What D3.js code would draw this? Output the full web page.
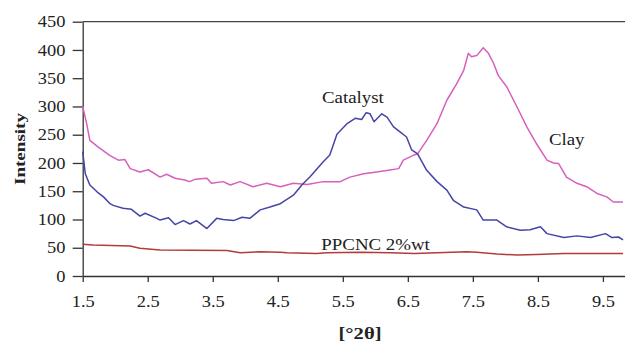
<!DOCTYPE html>
<html>
<head>
<meta charset="utf-8">
<script src="https://cdn.jsdelivr.net/npm/d3@7"></script>
<style>
  html, body { margin: 0; padding: 0; background: #fff; }
  svg { display: block; }
  .axis path, .axis line { stroke: #333; stroke-width: 1.3; }
</style>
</head>
<body>
<div id="chart"></div>
<script>
// values: [2theta, intensity]
var clay = [[1.5,300],[1.56,270],[1.61,240],[1.74,228],[1.92,213],[2.05,205],[2.15,206],[2.23,190],[2.38,184],[2.51,188],
  [2.69,175],[2.79,180],[2.92,173],[3.07,170],[3.14,167],[3.23,171],[3.41,173],[3.48,164],[3.66,167],[3.77,161],[3.92,167],
  [4.12,158],[4.33,164],[4.54,158],[4.74,164],[4.95,162],[5.2,167],[5.46,167],[5.61,175],[5.82,181],[6.02,184],[6.2,187],
  [6.36,190],[6.43,205],[6.59,214],[6.65,216],[6.79,240],[6.95,270],[7.1,311],[7.25,340],[7.36,364],[7.43,394],[7.48,388],
  [7.56,390],[7.66,404],[7.74,394],[7.82,376],[7.89,355],[8.02,335],[8.18,299],[8.33,264],[8.48,234],[8.64,205],[8.74,200],
  [8.82,199],[8.94,175],[9.1,164],[9.25,158],[9.41,146],[9.56,140],[9.66,131],[9.81,131]];

var catalyst = [[1.5,220],[1.54,181],[1.61,161],[1.72,149],[1.82,140],[1.92,128],[1.97,125],[2.12,120],[2.25,118],[2.38,106],
  [2.46,111],[2.64,102],[2.69,99],[2.82,103],[2.92,91],[3.05,98],[3.15,92],[3.25,98],[3.41,84],[3.56,102],[3.66,100],
  [3.82,98],[3.95,104],[4.07,102],[4.23,117],[4.38,122],[4.54,128],[4.74,143],[4.87,161],[5.0,176],[5.2,202],[5.3,214],
  [5.41,251],[5.56,269],[5.69,279],[5.79,277],[5.86,289],[5.92,287],[5.98,273],[6.1,287],[6.18,281],[6.28,264],[6.38,255],
  [6.48,246],[6.56,223],[6.65,216],[6.79,187],[6.95,167],[7.1,152],[7.2,134],[7.36,122],[7.56,117],[7.66,99],[7.87,99],
  [8.02,87],[8.23,81],[8.38,82],[8.54,87],[8.64,75],[8.9,68],[9.1,71],[9.31,68],[9.54,75],[9.64,68],[9.74,69],[9.81,64]];

var ppcnc = [[1.5,56],[1.66,55],[2.23,53],[2.38,49],[2.69,46],[3.72,45],[3.92,41],[4.23,43],[4.54,42],[4.64,41],[5.1,40],
  [5.25,41],[5.77,42],[6.23,41],[6.6,40],[7.41,43],[7.56,42],[7.87,39],[8.18,37],[8.48,38],[8.9,40],[9.81,40]];

var xTicks = [1.5, 2.5, 3.5, 4.5, 5.5, 6.5, 7.5, 8.5, 9.5];
var yTicks = [0, 50, 100, 150, 200, 250, 300, 350, 400, 450];

// curve labels, in data units (left end, baseline)
var labelText = ["Catalyst", "Clay", "PPCNC 2%wt"];
var labelX = [5.18, 8.67, 5.17];
var labelY = [306, 231, 46];

var serif = '"Times New Roman", Times, "Liberation Serif", serif';

var width = 625, height = 343;
var margin = { top: 21.7, right: 0, bottom: 67, left: 82.7 };

var x = d3.scaleLinear().domain([1.5, 9.84]).range([margin.left, width - margin.right]);
var y = d3.scaleLinear().domain([0, 450]).range([height - margin.bottom, margin.top]);

var svg = d3.select('#chart').append('svg')
  .attr('width', width)
  .attr('height', height);

// top border of the plot area
svg.append('line')
  .attr('x1', x(1.5)).attr('x2', x(9.84))
  .attr('y1', y(450)).attr('y2', y(450))
  .attr('stroke', '#444').attr('stroke-width', 1.3);

var xAxis = d3.axisBottom(x).tickValues(xTicks).tickFormat(d3.format('.1f'))
  .tickSize(6).tickSizeOuter(0).tickPadding(14);
var yAxis = d3.axisLeft(y).tickValues(yTicks).tickSize(10).tickSizeOuter(0).tickPadding(5);

svg.append('g')
  .attr('class', 'x axis')
  .attr('transform', `translate(0,${y(0)})`)
  .call(xAxis)
  .attr('font-family', serif)
  .attr('font-size', 16);

svg.append('g')
  .attr('class', 'y axis')
  .attr('transform', `translate(${x(1.5)},0)`)
  .call(yAxis)
  .attr('font-family', serif)
  .attr('font-size', 16);

// the reference lettering is a little stretched sideways
svg.selectAll('.axis .tick text')
  .attr('fill', '#222')
  .attr('transform', 'scale(1.15,1)');

var line = d3.line()
  .x(function (d) { return x(d[0]); })
  .y(function (d) { return y(d[1]); });

var series = [
  { data: clay, color: '#d660bd' },
  { data: catalyst, color: '#4545a6' },
  { data: ppcnc, color: '#b23b3b' }
];

svg.append('g').selectAll('path')
  .data(series)
  .join('path')
  .attr('fill', 'none')
  .attr('stroke', d => d.color)
  .attr('stroke-width', 1.5)
  .attr('stroke-linejoin', 'round')
  .attr('d', d => line(d.data));

// curve labels
svg.append('g').selectAll('text')
  .data(labelText)
  .join('text')
  .attr('transform', (d, i) => `translate(${x(labelX[i])},${y(labelY[i])}) scale(1.18,1)`)
  .attr('font-family', serif)
  .attr('font-size', 16)
  .attr('fill', '#222')
  .text(d => d);

// axis titles
svg.append('text')
  .attr('transform', `translate(25,149) rotate(-90)`)
  .attr('text-anchor', 'middle')
  .attr('font-family', serif)
  .attr('font-weight', 'bold')
  .attr('font-size', 15)
  .attr('textLength', 72)
  .attr('lengthAdjust', 'spacingAndGlyphs')
  .attr('fill', '#222')
  .text('Intensity');

svg.append('text')
  .attr('x', 360)
  .attr('y', 339)
  .attr('text-anchor', 'middle')
  .attr('font-family', serif)
  .attr('font-weight', 'bold')
  .attr('font-size', 16)
  .attr('textLength', 43)
  .attr('lengthAdjust', 'spacingAndGlyphs')
  .attr('fill', '#222')
  .text('[°2θ]');
</script>
</body>
</html>
